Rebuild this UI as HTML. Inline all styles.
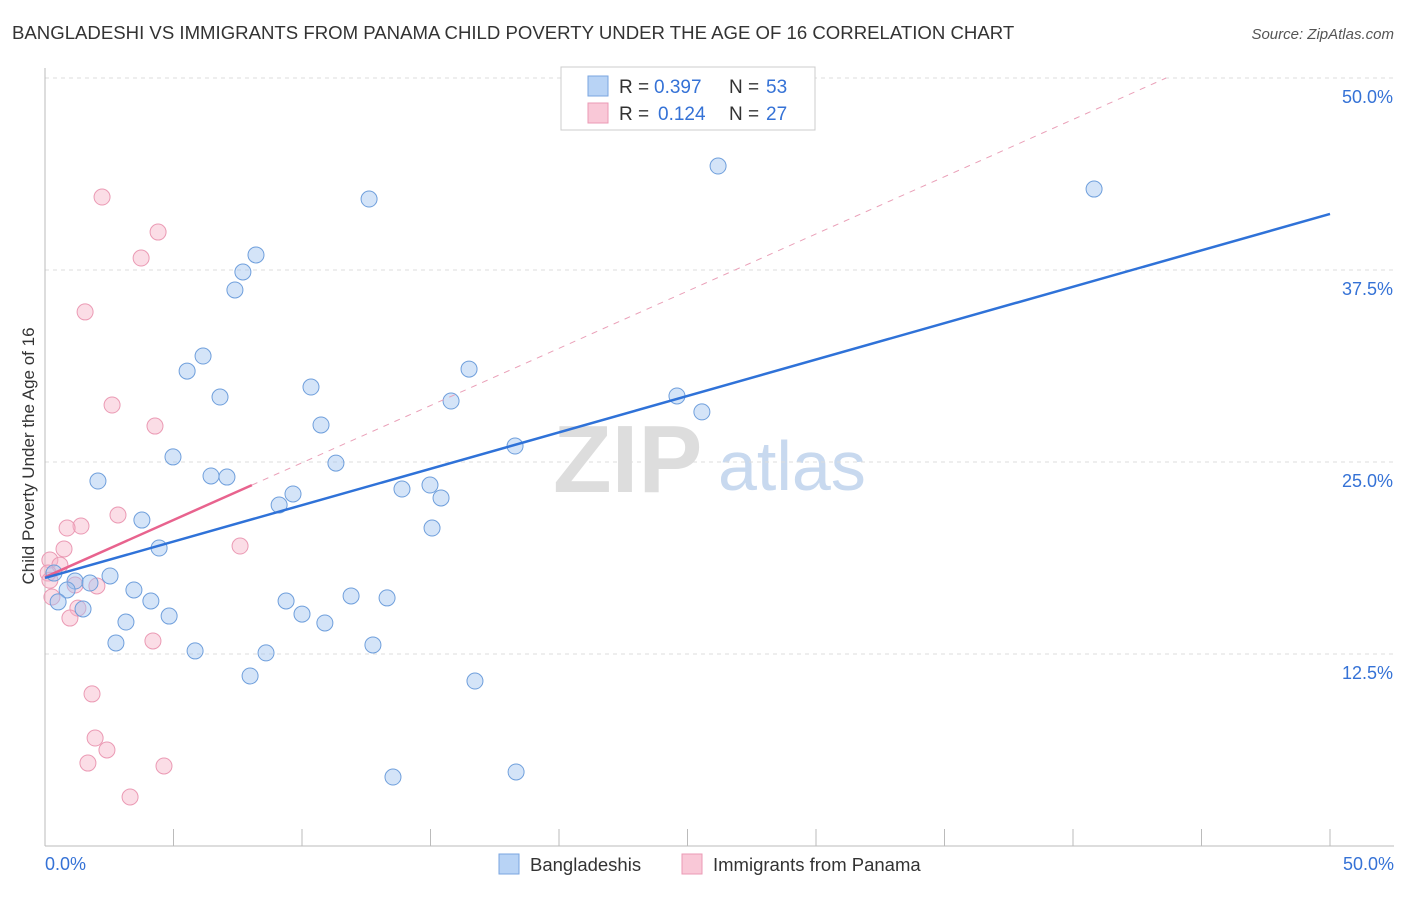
<!DOCTYPE html>
<html><head><meta charset="utf-8">
<style>
body{margin:0;background:#fff;font-family:"Liberation Sans",sans-serif;}
svg text{font-family:"Liberation Sans",sans-serif;}
</style></head>
<body>
<svg id="chart" width="1406" height="892" viewBox="0 0 1406 892" xmlns="http://www.w3.org/2000/svg">
<text x="12" y="39" font-size="18.6" fill="#333">BANGLADESHI VS IMMIGRANTS FROM PANAMA CHILD POVERTY UNDER THE AGE OF 16 CORRELATION CHART</text>
<text x="1394" y="39" font-size="15" fill="#555" text-anchor="end" font-style="italic">Source: ZipAtlas.com</text>
<g>
<text x="553" y="492" font-size="96" fill="#ddd" font-family="Liberation Serif,serif" font-weight="bold">ZIP</text>
<text x="718" y="490" font-size="70" fill="#c8d9ef">atlas</text>
</g>
<g id="grid"></g>
<g id="axes"></g>
<g id="marks"></g>
<text transform="translate(34,456) rotate(-90)" font-size="17" fill="#333" text-anchor="middle">Child Poverty Under the Age of 16</text>
<g>
<rect x="561" y="67" width="254" height="63" fill="#fff" stroke="#ccc"/>
<rect x="588" y="76" width="20" height="20" fill="#b8d3f5" stroke="#7aa6e0"/>
<rect x="588" y="103" width="20" height="20" fill="#f9c8d7" stroke="#eb9ab4"/>
<text x="619" y="93" font-size="19" fill="#333">R =</text>
<text x="654" y="93" font-size="19" fill="#3572d6">0.397</text>
<text x="729" y="93" font-size="19" fill="#333">N =</text>
<text x="766" y="93" font-size="19" fill="#3572d6">53</text>
<text x="619" y="120" font-size="19" fill="#333">R =</text>
<text x="658" y="120" font-size="19" fill="#3572d6">0.124</text>
<text x="729" y="120" font-size="19" fill="#333">N =</text>
<text x="766" y="120" font-size="19" fill="#3572d6">27</text>
</g>
<g>
<rect x="499" y="854" width="20" height="20" fill="#b8d3f5" stroke="#7aa6e0"/>
<text x="530" y="871" font-size="18.5" fill="#333">Bangladeshis</text>
<rect x="682" y="854" width="20" height="20" fill="#f9c8d7" stroke="#eb9ab4"/>
<text x="713" y="871" font-size="18.5" fill="#333">Immigrants from Panama</text>
</g>
</svg>
<script>
const yTicks=[12.5,25,37.5,50];
const yTickLabels=["12.5%","25.0%","37.5%","50.0%"];
const xTickLabels=["0.0%","50.0%"];
const blueX=[26.19,40.82,12.61,8.21,7.70,7.39,6.15,5.53,16.50,10.35,6.81,15.80,24.59,25.56,10.74,18.29,4.98,11.32,6.46,7.08,2.06,13.89,14.98,15.41,9.65,9.11,3.77,15.06,4.44,0.35,2.53,1.17,1.75,0.86,3.46,11.91,13.31,4.12,0.51,1.48,9.38,10.00,4.83,3.15,10.89,2.76,12.76,5.84,8.60,7.98,16.73,13.54,18.33];
const blueY=[44.27,42.77,42.12,38.48,37.37,36.20,31.90,30.92,31.05,29.88,29.23,28.97,29.30,28.26,27.41,26.04,25.33,24.93,24.09,24.02,23.76,23.24,23.50,22.66,22.92,22.20,21.22,20.70,19.40,17.77,17.58,17.25,17.12,16.67,16.67,16.28,16.15,15.95,15.89,15.43,15.95,15.10,14.97,14.58,14.52,13.22,13.09,12.70,12.57,11.07,10.74,4.49,4.82];
const pinkX=[2.22,4.40,3.74,1.56,2.61,4.28,2.84,1.40,0.86,0.74,7.59,0.19,0.58,0.12,2.02,1.17,0.27,1.28,0.97,4.20,1.83,1.95,2.41,1.67,4.63,3.31,0.19];
const pinkY=[42.25,39.97,38.28,34.77,28.71,27.34,21.55,20.83,20.70,19.34,19.53,18.62,18.29,17.77,16.93,16.99,16.21,15.49,14.84,13.35,9.90,7.03,6.25,5.40,5.21,3.19,17.3];
const blueTrend=[17.45,41.15];
const pinkTrend=[17.5,0.745];
const NS="http://www.w3.org/2000/svg";
const X=v=>45+v/50*1285, Y=v=>846-v/12.5*192;
function mk(tag,attrs,parent){const e=document.createElementNS(NS,tag);for(const k in attrs)e.setAttribute(k,attrs[k]);document.getElementById(parent).appendChild(e);return e;}
yTicks.forEach((t,i)=>{
 const g=mk('line',{x1:45,x2:1394,y1:Y(t),y2:Y(t),stroke:'#ddd','stroke-dasharray':'4,4'},'grid');
 
 
 const l=mk('text',{x:1393,y:Y(t)+25,'font-size':18,fill:'#3572d6','text-anchor':'end'},'axes');
 l.textContent=yTickLabels[i];
 
 
});
const ax=mk('line',{x1:45,x2:45,y1:68,y2:846,stroke:'#bbb'},'axes');


const bx=mk('line',{x1:45,x2:1394,y1:846,y2:846,stroke:'#bbb'},'axes');


for(let i=1;i<=10;i++){const t=mk('line',{x1:X(i*5),x2:X(i*5),y1:829,y2:846,stroke:'#bbb'},'axes');
 
 }
[[X(0),'start',xTickLabels[0]],[1394,'end',xTickLabels[1]]].forEach(a=>{
 const t=mk('text',{x:a[0],y:870,'font-size':18,fill:'#3572d6','text-anchor':a[1]},'axes');t.textContent=a[2];
 
 });
pinkX.forEach((x,i)=>{const c=mk('circle',{cx:X(x),cy:Y(pinkY[i]),r:8,fill:'rgba(247,180,200,0.45)',stroke:'#eb9ab4','stroke-width':1},'marks');
 
 });
blueX.forEach((x,i)=>{const c=mk('circle',{cx:X(x),cy:Y(blueY[i]),r:8,fill:'rgba(160,196,240,0.45)',stroke:'#6f9fdc','stroke-width':1},'marks');
 
 });
const xe=(50-pinkTrend[0])/pinkTrend[1];
const pd=mk('line',{x1:X(8.05),y1:Y(pinkTrend[0]+pinkTrend[1]*8.05),x2:X(xe),y2:Y(50),stroke:'#eaa0b8','stroke-dasharray':'6,6','stroke-width':1},'marks');


const pl=mk('line',{x1:X(0),y1:Y(pinkTrend[0]),x2:X(8.05),y2:Y(pinkTrend[0]+pinkTrend[1]*8.05),stroke:'#e8638e','stroke-width':2.5},'marks');


const bl=mk('line',{x1:X(0),y1:Y(blueTrend[0]),x2:X(50),y2:Y(blueTrend[1]),stroke:'#2f72d8','stroke-width':2.5},'marks');


</script>
</body></html>
